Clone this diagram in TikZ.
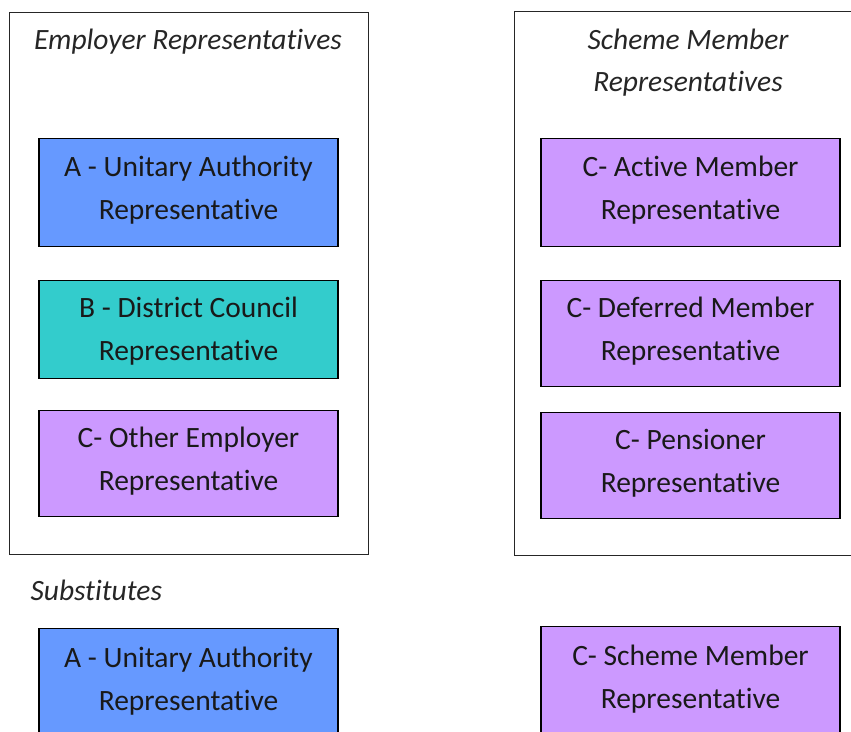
\documentclass[tikz,border=0pt]{standalone}
\usepackage{fontspec}
\setmainfont{Carlito}[Ligatures=NoCommon]
\definecolor{unitary}{HTML}{6699FF}
\definecolor{district}{HTML}{33CCCC}
\definecolor{member}{HTML}{CC99FF}
\begin{document}
\begin{tikzpicture}[x=1pt,y=-1pt,
    group/.style={draw=black!85,line width=1.3pt,anchor=north west,inner sep=0pt},
    rep/.style={draw=black,line width=1.3pt,minimum width=299pt,anchor=north,align=center,inner sep=0pt,text depth=10pt,text=black!90,font=\fontsize{29.5}{43}\selectfont},
    heading/.style={align=center,text=black!85,font=\fontsize{29.5}{42}\selectfont\itshape}]
  \useasboundingbox (0,0) rectangle (851,731);
  % the two groups
  \node [group,minimum width=359pt,minimum height=542pt] (employers) at (9,12) {};
  \node [group,minimum width=340pt,minimum height=544pt] (members) at (514,11) {};
  \node [heading] (emptitle) at (188,42) {Employer Representatives};
  \node [heading] (memtitle) at (688,63) {Scheme Member\\Representatives};
  % employer side
  \node [rep,fill=unitary,minimum height=108pt] (unitary) at (188.5,138) {A - Unitary Authority\\Representative};
  \node [rep,fill=district,minimum height=98pt,text depth=1pt] (district) at (188.5,280) {B - District Council\\Representative};
  \node [rep,fill=member,minimum height=106pt] (other) at (188.5,410) {C- Other Employer\\Representative};
  % member side
  \node [rep,fill=member,minimum height=108pt] (active) at (690.5,138) {C- Active Member\\Representative};
  \node [rep,fill=member,minimum height=106pt] (deferred) at (690.5,280) {C- Deferred Member\\Representative};
  \node [rep,fill=member,minimum height=106pt] (pensioner) at (690.5,412) {C- Pensioner\\Representative};
  % substitutes
  \node [heading,anchor=west] (subs) at (27,590) {Substitutes};
  \node [rep,fill=unitary,minimum height=110pt] (subunitary) at (188.5,628) {A - Unitary Authority\\Representative};
  \node [rep,fill=member,minimum height=110pt] (submember) at (690.5,626) {C- Scheme Member\\Representative};
\end{tikzpicture}
\end{document}
